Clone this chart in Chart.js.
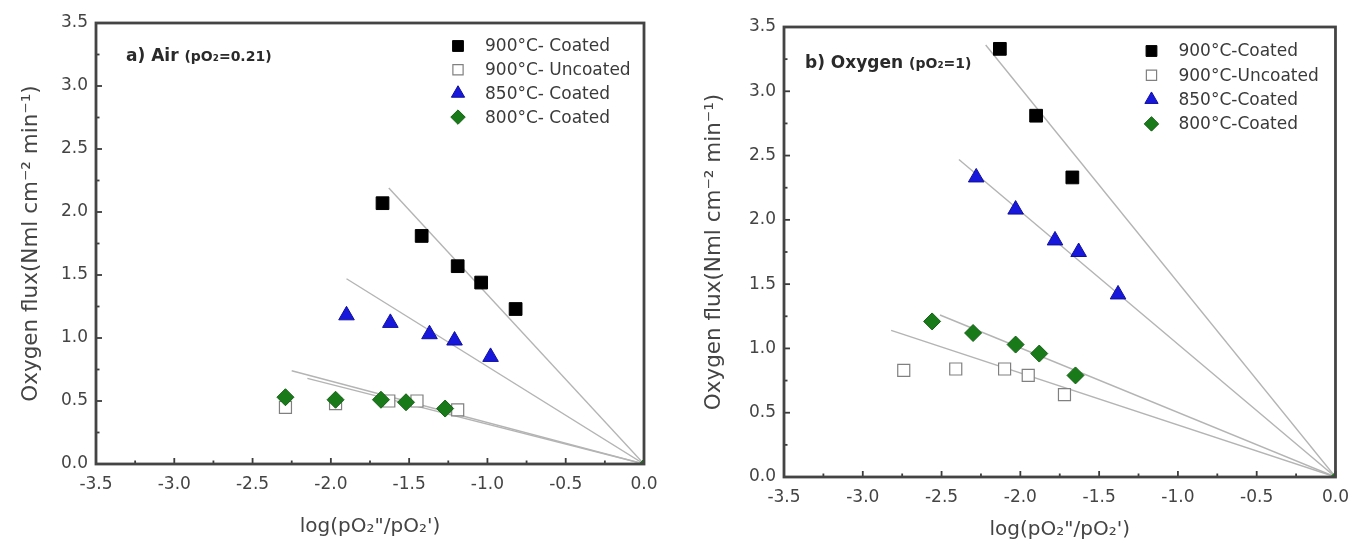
<!DOCTYPE html>
<html>
<head>
<meta charset="utf-8">
<script src="https://cdn.jsdelivr.net/npm/chart.js@4.4.1/dist/chart.umd.min.js"></script>
<style>
  body { margin: 0; background: #fff; width: 1359px; height: 546px; position: relative; overflow: hidden; }
  .panel { position: absolute; top: 0; height: 546px; }
</style>
</head>
<body>
<div class="panel" style="left:0;width:680px"><canvas id="chartAir"></canvas></div>
<div class="panel" style="left:680px;width:679px"><canvas id="chartOxy"></canvas></div>
<script>
// axis ticks
const ticksX = [-3.5, -3.0, -2.5, -2.0, -1.5, -1.0, -0.5, 0.0];
const ticksY = [0.0, 0.5, 1.0, 1.5, 2.0, 2.5, 3.0, 3.5];

// a) Air (pO2 = 0.21)
const airLegend = ['900°C- Coated', '900°C- Uncoated', '850°C- Coated', '800°C- Coated'];
const air900cX = [-1.67, -1.42, -1.19, -1.04, -0.82];
const air900cY = [2.07, 1.81, 1.57, 1.44, 1.23];
const air900uX = [-2.29, -1.97, -1.63, -1.45, -1.19];
const air900uY = [0.45, 0.48, 0.50, 0.50, 0.43];
const air850cX = [-1.90, -1.62, -1.37, -1.21, -0.98];
const air850cY = [1.18, 1.12, 1.03, 0.98, 0.85];
const air800cX = [-2.29, -1.97, -1.68, -1.52, -1.27];
const air800cY = [0.53, 0.51, 0.51, 0.49, 0.44];
// start points of the fit lines (they all run to the origin)
const airFitX = [-1.63, -1.90, -2.25, -2.15];
const airFitY = [2.19, 1.47, 0.74, 0.68];

// b) Oxygen (pO2 = 1)
const oxyLegend = ['900°C-Coated', '900°C-Uncoated', '850°C-Coated', '800°C-Coated'];
const oxy900cX = [-2.13, -1.90, -1.67];
const oxy900cY = [3.33, 2.81, 2.33];
const oxy900uX = [-2.74, -2.41, -2.10, -1.95, -1.72];
const oxy900uY = [0.83, 0.84, 0.84, 0.79, 0.64];
const oxy850cX = [-2.28, -2.03, -1.78, -1.63, -1.38];
const oxy850cY = [2.33, 2.08, 1.84, 1.75, 1.42];
const oxy800cX = [-2.56, -2.30, -2.03, -1.88, -1.65];
const oxy800cY = [1.21, 1.12, 1.03, 0.96, 0.79];
const oxyFitX = [-2.22, -2.39, -2.51, -2.82];
const oxyFitY = [3.36, 2.47, 1.26, 1.14];

const originX = [0];
const originY = [0];

const FONT = "'DejaVu Sans', sans-serif";
const TXT = '#444';

const pts = (xs, ys) => xs.map((x, i) => ({ x: x, y: ys[i] }));

const styles = [
  { pointStyle: 'rect', radius: 9, backgroundColor: '#000', borderColor: '#000', borderWidth: 1, order: 3 },
  { pointStyle: 'rect', radius: 8.5, backgroundColor: '#fff', borderColor: '#808080', borderWidth: 1.2, order: 4 },
  { pointStyle: 'triangle', radius: 9, backgroundColor: '#1818dc', borderColor: '#10109a', borderWidth: 1, order: 2 },
  { pointStyle: 'rectRot', radius: 8.5, backgroundColor: '#187a18', borderColor: '#146014', borderWidth: 1, order: 1 }
];

function buildDatasets(series, fitX, fitY) {
  const ds = series.map((s, i) => ({
    data: pts(s[0], s[1]),
    showLine: false,
    pointStyle: styles[i].pointStyle,
    pointRadius: styles[i].radius,
    pointHoverRadius: styles[i].radius,
    backgroundColor: styles[i].backgroundColor,
    borderColor: styles[i].borderColor,
    borderWidth: styles[i].borderWidth,
    order: styles[i].order
  }));
  fitX.forEach((fx, i) => {
    ds.push({
      data: pts([fx, originX[0]], [fitY[i], originY[0]]),
      showLine: true,
      borderColor: '#b4b4b4',
      borderWidth: 1.4,
      pointRadius: 0,
      order: 10
    });
  });
  ds.push({
    data: pts(originX, originY),
    pointStyle: 'rectRot',
    pointRadius: 5,
    backgroundColor: '#187a18',
    borderColor: '#187a18',
    order: 0
  });
  return ds;
}

const deco = {
  id: 'deco',
  afterDraw(chart, args, o) {
    const { ctx, chartArea: a } = chart;
    const x = chart.scales.x, y = chart.scales.y;
    ctx.save();
    // inward tick marks, major + minor
    ctx.strokeStyle = '#3c3c3c';
    ctx.lineWidth = 1.8;
    ticksX.forEach((v, i) => {
      const px = x.getPixelForValue(v);
      ctx.beginPath(); ctx.moveTo(px, a.bottom); ctx.lineTo(px, a.bottom - 6); ctx.stroke();
      if (i < ticksX.length - 1) {
        const pm = x.getPixelForValue((v + ticksX[i + 1]) / 2);
        ctx.beginPath(); ctx.moveTo(pm, a.bottom); ctx.lineTo(pm, a.bottom - 3.5); ctx.stroke();
      }
    });
    ticksY.forEach((v, i) => {
      const py = y.getPixelForValue(v);
      ctx.beginPath(); ctx.moveTo(a.left, py); ctx.lineTo(a.left + 6, py); ctx.stroke();
      if (i < ticksY.length - 1) {
        const pm = y.getPixelForValue((v + ticksY[i + 1]) / 2);
        ctx.beginPath(); ctx.moveTo(a.left, pm); ctx.lineTo(a.left + 3.5, pm); ctx.stroke();
      }
    });
    // frame
    ctx.strokeStyle = '#444';
    ctx.lineWidth = 2.8;
    ctx.strokeRect(a.left, a.top, a.right - a.left, a.bottom - a.top);

    // legend
    ctx.font = '17px ' + FONT;
    ctx.textBaseline = 'middle';
    o.labels.forEach((lab, i) => {
      const st = styles[i];
      const ly = a.top + o.legendTop + i * o.legendStep;
      const lx = a.right - o.legendRight;
      ctx.fillStyle = st.backgroundColor;
      ctx.strokeStyle = st.borderColor;
      ctx.lineWidth = st.borderWidth;
      Chart.helpers.drawPoint(ctx, {
        pointStyle: st.pointStyle, radius: st.radius * 0.85, rotation: 0, borderWidth: st.borderWidth
      }, lx, ly);
      ctx.fillStyle = '#3a3a3a';
      ctx.fillText(lab, lx + 27, ly + 1);
    });

    // panel label
    const tx = a.left + o.labelLeft, ty = a.top + o.labelTop;
    ctx.fillStyle = '#2a2a2a';
    ctx.textBaseline = 'alphabetic';
    ctx.font = 'bold 17px ' + FONT;
    ctx.fillText(o.title, tx, ty);
    const w = ctx.measureText(o.title + ' ').width;
    ctx.font = 'bold 14px ' + FONT;
    ctx.fillText(o.sub, tx + w, ty);
    ctx.restore();
  }
};

function makeChart(id, series, fitX, fitY, cfg) {
  return new Chart(document.getElementById(id), {
    type: 'scatter',
    data: { datasets: buildDatasets(series, fitX, fitY) },
    plugins: [deco],
    options: {
      responsive: true,
      maintainAspectRatio: false,
      animation: false,
      events: [],
      layout: { padding: { left: 0, top: cfg.top, right: cfg.right, bottom: 0 } },
      plugins: {
        legend: { display: false },
        tooltip: { enabled: false },
        deco: cfg.deco
      },
      scales: {
        x: {
          type: 'linear',
          min: -3.5,
          max: 0,
          afterBuildTicks: s => { s.ticks = ticksX.map(v => ({ value: v })); },
          afterFit: s => { s.height = cfg.xHeight; },
          grid: { display: false, drawTicks: false },
          border: { display: false },
          ticks: {
            padding: cfg.xPad,
            color: TXT,
            font: { family: FONT, size: 17 },
            maxRotation: 0,
            callback: v => v.toFixed(1)
          },
          title: {
            display: true,
            text: 'log(pO\u2082"/pO\u2082\')',
            color: TXT,
            font: { family: FONT, size: 20 },
            padding: { top: 0, bottom: cfg.xTitlePad }
          }
        },
        y: {
          type: 'linear',
          min: 0,
          max: 3.5,
          afterBuildTicks: s => { s.ticks = ticksY.map(v => ({ value: v })); },
          afterFit: s => { s.width = cfg.yWidth; },
          grid: { display: false, drawTicks: false },
          border: { display: false },
          ticks: {
            padding: 8,
            color: TXT,
            font: { family: FONT, size: 17 },
            callback: v => v.toFixed(1)
          },
          title: {
            display: true,
            text: 'Oxygen flux(Nml cm\u207B\u00B2 min\u207B\u00B9)',
            color: TXT,
            font: { family: FONT, size: 21.5 },
            padding: { top: cfg.yTitlePad, bottom: 0 }
          }
        }
      }
    }
  });
}

makeChart('chartAir',
  [[air900cX, air900cY], [air900uX, air900uY], [air850cX, air850cY], [air800cX, air800cY]],
  airFitX, airFitY,
  {
    top: 23, right: 36, xHeight: 82, yWidth: 96, xPad: 10, xTitlePad: 7, yTitlePad: 19,
    deco: { labels: airLegend, legendTop: 23, legendStep: 23.7, legendRight: 186,
            title: 'a) Air', sub: '(pO\u2082=0.21)', labelLeft: 30, labelTop: 38 }
  });

makeChart('chartOxy',
  [[oxy900cX, oxy900cY], [oxy900uX, oxy900uY], [oxy850cX, oxy850cY], [oxy800cX, oxy800cY]],
  oxyFitX, oxyFitY,
  {
    top: 27, right: 19, xHeight: 69, yWidth: 104, xPad: 10, xTitlePad: 4, yTitlePad: 22,
    deco: { labels: oxyLegend, legendTop: 24, legendStep: 24.3, legendRight: 184,
            title: 'b) Oxygen', sub: '(pO\u2082=1)', labelLeft: 21, labelTop: 41 }
  });
</script>
</body>
</html>
